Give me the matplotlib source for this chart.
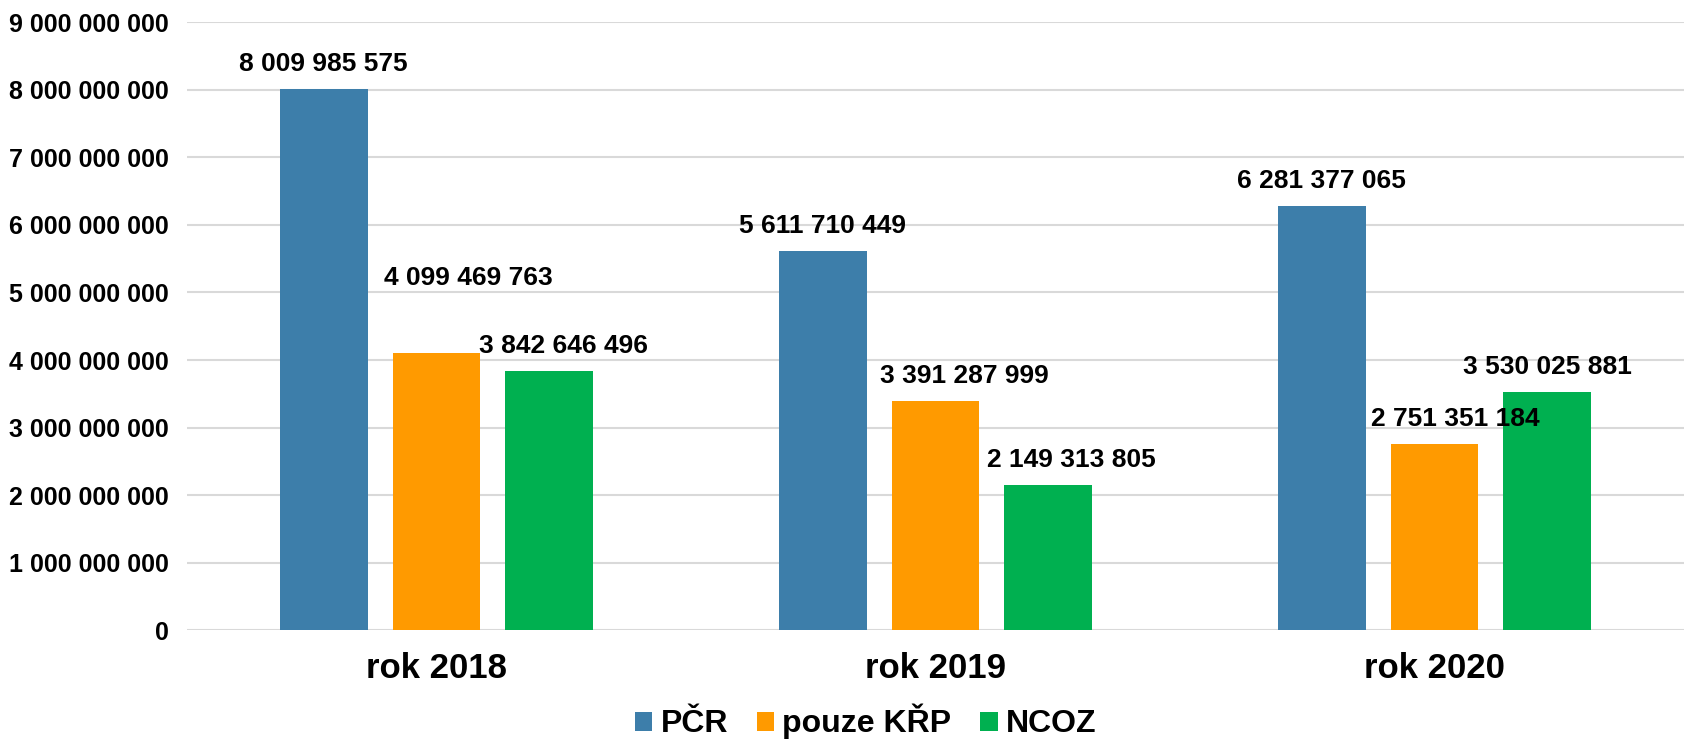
import numpy as np
import matplotlib.pyplot as plt

plt.rcParams['font.family'] = ['Liberation Sans', 'DejaVu Sans']
plt.rcParams['font.weight'] = 'bold'

years = ['rok 2018', 'rok 2019', 'rok 2020']
series = ['PČR', 'pouze KŘP', 'NCOZ']
pcr = [8009985575, 5611710449, 6281377065]
krp = [4099469763, 3391287999, 2751351184]
ncoz = [3842646496, 2149313805, 3530025881]
colors = ['#3d7eaa', '#ff9a00', '#00b050']

# label offsets in points (dx, dy), Excel pushes some labels around
label_offsets = [
    [(0, 0), (0, 0), (0, 0)],
    [(23, 36), (21, 0), (15, 0)],
    [(10, 0), (17, 0), (0, 0)],
]

def fmt(v):
    return f"{v:,}".replace(",", " ")

fig = plt.figure(figsize=(16.84, 7.44), dpi=100)
ax = fig.add_axes([0.111, 0.153, 0.889, 0.817])

x = np.arange(len(years))
width = 0.176
step = 0.226
data = [pcr, krp, ncoz]
for i, (vals, name, c) in enumerate(zip(data, series, colors)):
    pos = x + (i - 1) * step
    ax.bar(pos, vals, width=width, color=c, label=name, zorder=3)
    for j, (p, v) in enumerate(zip(pos, vals)):
        dx, dy = label_offsets[i][j]
        ax.annotate(fmt(v), (p, v), xytext=(dx, 18 + dy), textcoords='offset points',
                    ha='center', va='center', fontsize=19, fontweight='bold', zorder=4)

ax.set_ylim(0, 9e9)
ax.set_xlim(-0.5, 2.5)
yt = np.arange(0, 10) * 1e9
ax.set_yticks(yt)
ax.set_yticklabels([fmt(int(v)) for v in yt], fontsize=18, fontweight='bold')
ax.set_xticks(x)
ax.set_xticklabels(years, fontsize=25, fontweight='bold')
ax.tick_params(axis='y', length=0, pad=13)
ax.tick_params(axis='x', length=0, pad=16)
ax.grid(axis='y', color='#d9d9d9', linewidth=1.5, zorder=0)
for s in ax.spines.values():
    s.set_visible(False)

fig.legend(loc='center', bbox_to_anchor=(0.514, 0.03), ncol=3, frameon=False,
           prop={'size': 23, 'weight': 'bold'}, handlelength=0.55, handleheight=0.55,
           handletextpad=0.25, columnspacing=0.9, borderpad=0.1)

fig.savefig('out.png', dpi=100)
